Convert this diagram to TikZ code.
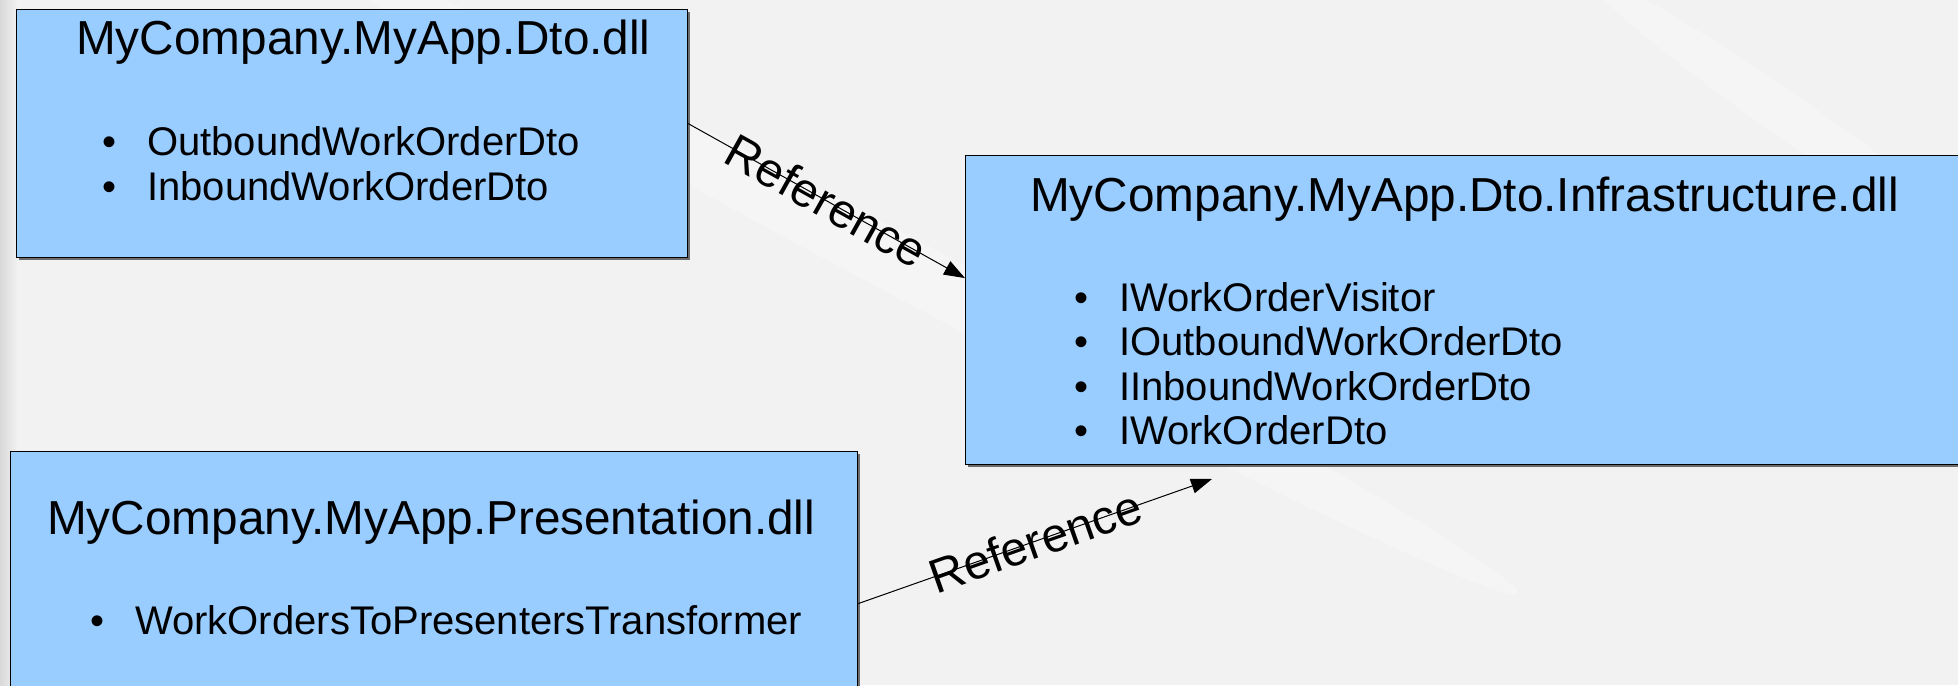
\documentclass[tikz,border=0pt]{standalone}
\usepackage{fontspec}
\setmainfont{Liberation Sans}
\usetikzlibrary{arrows.meta,shadows}
\definecolor{dllblue}{HTML}{99CCFF}
\definecolor{backgray}{HTML}{F2F2F2}

\begin{document}
\begin{tikzpicture}[x=1pt, y=1pt,
  dllbox/.style={draw=black, line width=1.2pt, fill=dllblue, anchor=north west, inner sep=0pt,
    drop shadow={shadow xshift=2pt, shadow yshift=-2pt, fill=gray!85!black, opacity=1}},
  dlltitle/.style={anchor=base west, inner sep=0pt, font=\fontsize{47.7}{56}\selectfont},
  dllitem/.style={anchor=base west, inner sep=0pt, font=\fontsize{40}{45}\selectfont},
  refarrow/.style={line width=1pt, -{Triangle[length=21pt, width=15pt]}},
  reflabel/.style={sloped, inner sep=0pt, font=\fontsize{48}{56}\selectfont}]
  \useasboundingbox (0,0) rectangle (1958,685);
  \clip (0,0) rectangle (1958,685);
  % fondo
  \fill[backgray] (0,0) rectangle (1958,685);
  \shade[left color=gray!30, right color=backgray] (0,0) rectangle (18,685);
  \fill[white, opacity=0.3, rotate around={-28:(900,420)}] (900,420) ellipse (700 and 30);
  \fill[white, opacity=0.3, rotate around={-35:(1800,560)}] (1800,560) ellipse (260 and 22);
  % Dto.dll
  \node[dllbox, minimum width=671pt, minimum height=248pt] (dto) at (16,676) {};
  \node[dlltitle] (dto-title) at (76,630) {MyCompany.MyApp.Dto.dll};
  \foreach \name [count=\i] in {OutboundWorkOrderDto, InboundWorkOrderDto}
    \node[dllitem] (dto-\i) at (102,574-45*\i) {\textbullet\hspace{31pt}\name};
  % Dto.Infrastructure.dll
  \node[dllbox, minimum width=1010pt, minimum height=309pt] (infra) at (965,530) {};
  \node[dlltitle] (infra-title) at (1030,473) {MyCompany.MyApp.Dto.Infrastructure.dll};
  \foreach \name [count=\i] in {IWorkOrderVisitor, IOutboundWorkOrderDto, IInboundWorkOrderDto, IWorkOrderDto}
    \node[dllitem] (infra-\i) at (1074,418-44.5*\i) {\textbullet\hspace{31pt}\name};
  % Presentation.dll
  \node[dllbox, minimum width=847pt, minimum height=250pt] (pres) at (10,234) {};
  \node[dlltitle] (pres-title) at (47,150) {MyCompany.MyApp.Presentation.dll};
  \node[dllitem] (pres-1) at (90,50) {\textbullet\hspace{31pt}WorkOrdersToPresentersTransformer};
  % referencias
  \coordinate (infra-ref) at (1212,206);
  \draw[refarrow] ([yshift=10pt]dto.east) -- node[reflabel] (ref-1) {Reference} ([yshift=32pt]infra.west);
  \draw[refarrow] ([yshift=-27pt]pres.east) -- node[reflabel] (ref-2) {Reference} (infra-ref);
\end{tikzpicture}
\end{document}
